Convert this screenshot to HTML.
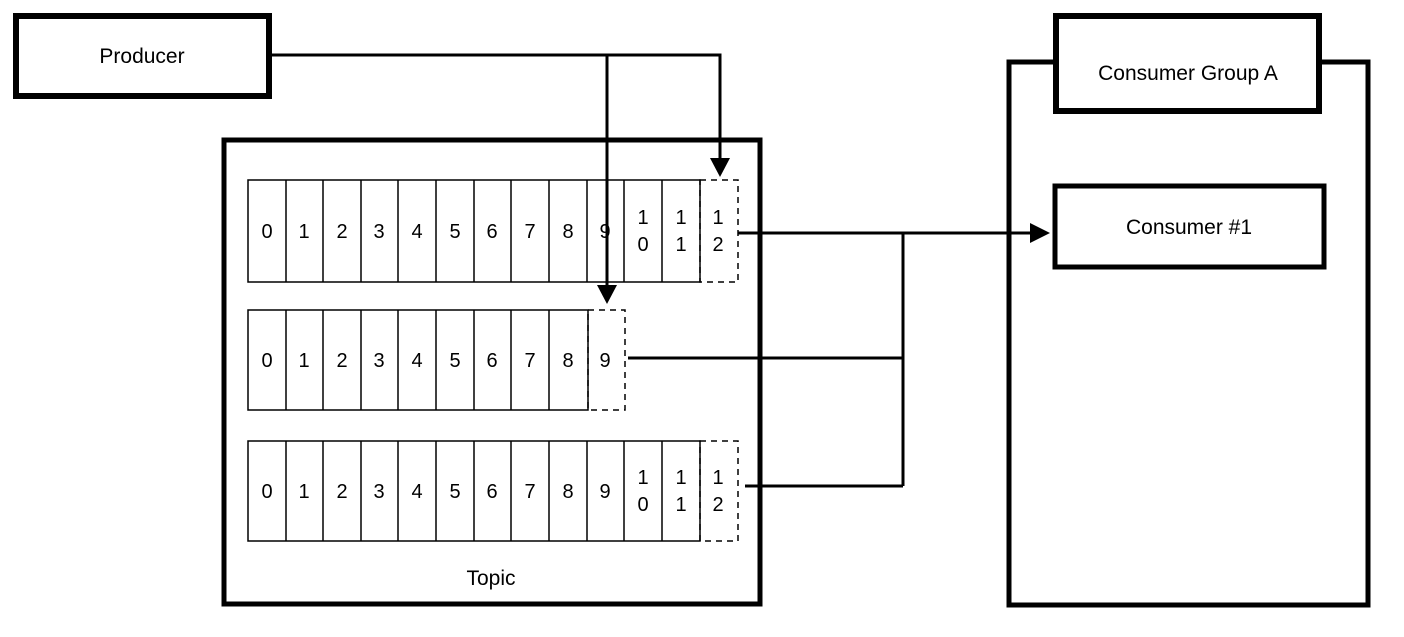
<!DOCTYPE html>
<html><head><style>body{margin:0;background:#fff}svg{display:block}</style></head><body>
<svg width="1404" height="637" viewBox="0 0 1404 637" xmlns="http://www.w3.org/2000/svg" font-family="Liberation Sans, sans-serif">
<defs><marker id="a" markerWidth="10" markerHeight="10" refX="9" refY="5" orient="auto" markerUnits="userSpaceOnUse"><path d="M0,0 L10,5 L0,10Z" fill="#000" transform="scale(1.8) translate(-4.5,-2.2)"/></marker></defs>
<rect x="16" y="16" width="253" height="80" fill="#fff" stroke="#000" stroke-width="6"/>
<text x="142" y="63" font-size="21" text-anchor="middle">Producer</text>
<rect x="224" y="140" width="536" height="464" fill="none" stroke="#000" stroke-width="5"/>
<text x="491" y="585" font-size="21" text-anchor="middle">Topic</text>
<g stroke="#000" stroke-width="1.5" fill="#fff" font-size="20">
<g id="r1">
<rect x="248" y="180" width="452" height="102"/>
</g>
<rect x="248" y="310" width="340" height="100"/>
<rect x="248" y="441" width="452" height="100"/>
</g>
<g stroke="#000" stroke-width="1.5">
<path d="M286,180V282M323,180V282M361,180V282M398,180V282M436,180V282M474,180V282M511,180V282M549,180V282M587,180V282M624,180V282M662,180V282"/>
<path d="M286,310V410M323,310V410M361,310V410M398,310V410M436,310V410M474,310V410M511,310V410M549,310V410"/>
<path d="M286,441V541M323,441V541M361,441V541M398,441V541M436,441V541M474,441V541M511,441V541M549,441V541M587,441V541M624,441V541M662,441V541"/>
</g>
<g fill="none" stroke="#000" stroke-width="1.5" stroke-dasharray="6,5">
<rect x="700" y="180" width="38" height="102"/>
<rect x="588" y="310" width="37" height="100"/>
<rect x="700" y="441" width="38" height="100"/>
</g>
<g font-size="20" text-anchor="middle" fill="#000">
<text x="267" y="238">0</text><text x="304" y="238">1</text><text x="342" y="238">2</text><text x="379" y="238">3</text><text x="417" y="238">4</text><text x="455" y="238">5</text><text x="492" y="238">6</text><text x="530" y="238">7</text><text x="568" y="238">8</text><text x="605" y="238">9</text>
<text x="643" y="224">1</text><text x="643" y="251">0</text><text x="681" y="224">1</text><text x="681" y="251">1</text><text x="718" y="224">1</text><text x="718" y="251">2</text>
<text x="267" y="367">0</text><text x="304" y="367">1</text><text x="342" y="367">2</text><text x="379" y="367">3</text><text x="417" y="367">4</text><text x="455" y="367">5</text><text x="492" y="367">6</text><text x="530" y="367">7</text><text x="568" y="367">8</text><text x="605" y="367">9</text>
<text x="267" y="498">0</text><text x="304" y="498">1</text><text x="342" y="498">2</text><text x="379" y="498">3</text><text x="417" y="498">4</text><text x="455" y="498">5</text><text x="492" y="498">6</text><text x="530" y="498">7</text><text x="568" y="498">8</text><text x="605" y="498">9</text>
<text x="643" y="484">1</text><text x="643" y="511">0</text><text x="681" y="484">1</text><text x="681" y="511">1</text><text x="718" y="484">1</text><text x="718" y="511">2</text>
</g>
<g stroke="#000" stroke-width="3" fill="none">
<path d="M269,55H720V160"/>
<path d="M607,55V288"/>
<path d="M738,233H1035"/>
<path d="M628,358H903"/>
<path d="M745,486H903"/>
<path d="M903,233V486"/>
</g>
<path d="M710,158L730,158L720,177Z" fill="#000"/>
<path d="M597,285L617,285L607,304Z" fill="#000"/>
<path d="M1030,223L1050,233L1030,243Z" fill="#000"/>
<rect x="1009" y="62" width="359" height="543" fill="none" stroke="#000" stroke-width="5"/>
<rect x="1056" y="16" width="263" height="95" fill="#fff" stroke="#000" stroke-width="6"/>
<text x="1188" y="80" font-size="21" text-anchor="middle">Consumer Group A</text>
<rect x="1055" y="186" width="269" height="81" fill="#fff" stroke="#000" stroke-width="5"/>
<text x="1189" y="234" font-size="21" text-anchor="middle">Consumer #1</text>
</svg>
</body></html>
